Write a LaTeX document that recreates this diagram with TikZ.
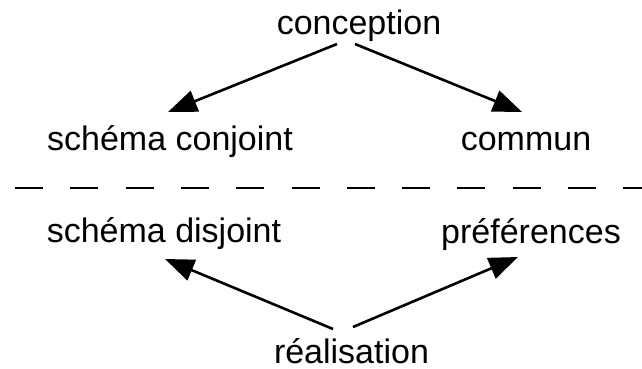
\documentclass[tikz,border=0pt]{standalone}
\usepackage{fontspec}
\setmainfont{Liberation Sans}
\usetikzlibrary{arrows.meta}
\begin{document}
\begin{tikzpicture}[x=1pt,y=-1pt,
  lbl/.style={anchor=base,inner sep=0pt,font=\fontsize{34}{40}\selectfont},
  arr/.style={line width=2.6pt,-{Triangle[length=29pt,width=22pt]}},
  sep/.style={line width=2.8pt,dash pattern=on 28pt off 27.3pt}]
\useasboundingbox (0,0) rectangle (642,369);
\node[lbl] (con) at (359,35) {conception};
\node[lbl] (sc) at (170,150) {schéma conjoint};
\node[lbl] (com) at (526,150) {commun};
\node[lbl] (sd) at (164,242) {schéma disjoint};
\node[lbl] (pre) at (531,243) {préférences};
\node[lbl] (rea) at (351.5,363) {réalisation};
\coordinate (a1) at (337,44);
\coordinate (a2) at (355,44);
\coordinate (t1) at (168,112);
\coordinate (t2) at (522,112);
\coordinate (b1) at (333,329);
\coordinate (b2) at (353,327);
\coordinate (u1) at (165,259);
\coordinate (u2) at (518,257);
\coordinate (d1) at (15,188);
\coordinate (d2) at (642,188);
\draw[arr] (a1) -- (t1);
\draw[arr] (a2) -- (t2);
\draw[arr] (b1) -- (u1);
\draw[arr] (b2) -- (u2);
\draw[sep] (d1) -- (d2);
\end{tikzpicture}
\end{document}
